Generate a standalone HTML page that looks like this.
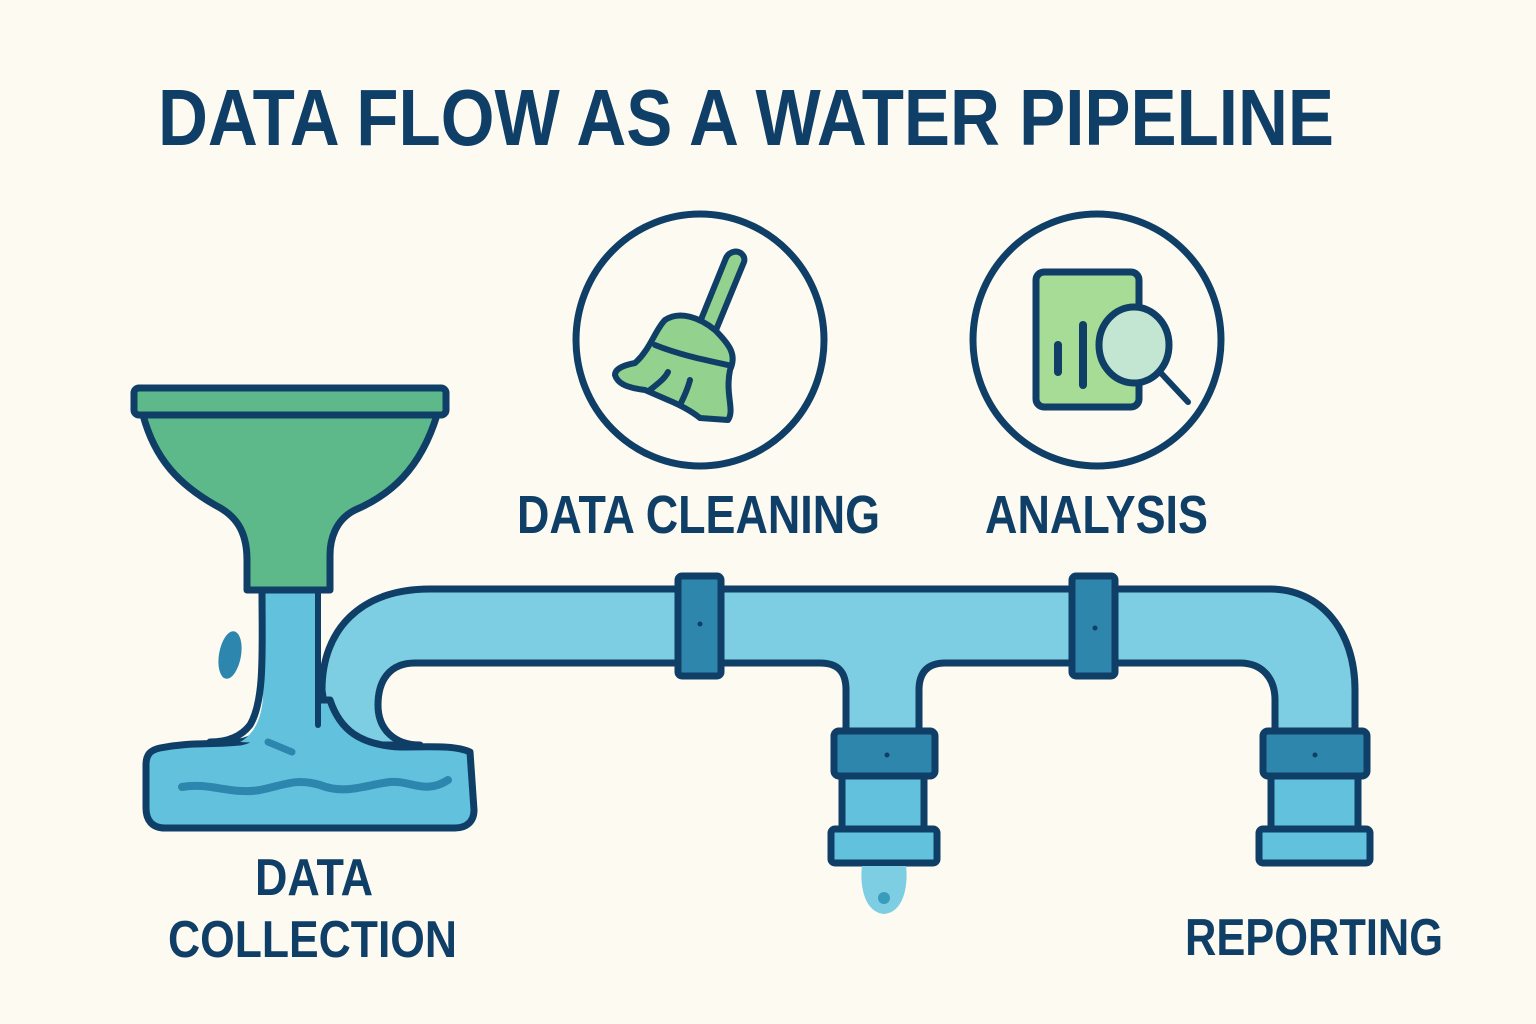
<!DOCTYPE html>
<html><head><meta charset="utf-8"><style>
html,body{margin:0;padding:0;background:#fcfaf1;}
svg{display:block;}
text{font-family:"Liberation Sans",sans-serif;font-weight:bold;fill:#0f3e66;}
</style></head><body>
<svg width="1536" height="1024" viewBox="0 0 1536 1024" xmlns="http://www.w3.org/2000/svg">
<rect width="1536" height="1024" fill="#fcfaf1"/>
<text x="158" y="145" font-size="80" textLength="1176" lengthAdjust="spacingAndGlyphs">DATA FLOW AS A WATER PIPELINE</text>

<g stroke="#0f3e66" stroke-width="7" stroke-linejoin="round" stroke-linecap="round">
<!-- pipe -->
<path d="M322,690 C322,630 360,589 430,589 L1270,589 C1320,589 1355,630 1355,690 L1355,740 L1275,740 L1275,700 C1275,678 1262,663 1240,663 L945,663 C928,663 919,672 919,690 L919,740 L846,740 L846,690 C846,672 838,663 820,663 L415,663 C390,663 378,680 378,705 C378,730 395,745 420,745 L330,745 Z" fill="#7dcde3"/>
<!-- basin -->
<path d="M160,748 C190,742 210,745 240,742 C262,738 270,720 280,700 L330,700 C340,730 360,745 400,747 C430,747 455,745 470,752 L474,810 C474,822 466,828 455,828 L165,828 C152,828 146,820 146,808 L146,765 C146,755 150,750 160,748 Z" fill="#62c1dc"/>
<!-- stream -->
<path d="M262,590 L318,590 L318,725 L300,745 L240,742 C262,730 265,700 262,680 Z" fill="#62c1dc" stroke="none"/>
<path d="M262,590 C262,650 265,700 250,725 C240,738 225,742 210,742" fill="none"/>
<path d="M318,590 L318,725" fill="none" stroke-width="6"/>
<path d="M182,787 C210,782 230,795 260,790 C285,785 295,778 320,785 C345,795 365,785 390,782 C410,780 425,795 448,780" fill="none" stroke="#2d86ae" stroke-width="8"/>
<path d="M268,742 L292,752" stroke="#2d86ae" stroke-width="7"/>
<ellipse cx="230" cy="655" rx="11" ry="24" fill="#2d86ae" stroke="none" transform="rotate(10 230 655)"/>
<!-- funnel -->
<path d="M143,415 L437,415 C420,470 390,495 355,510 C335,520 330,540 330,555 L330,590 L247,590 L247,560 C247,530 235,515 215,505 C180,485 155,460 143,415 Z" fill="#5db98a"/>
<rect x="134" y="388" width="312" height="27" rx="5" fill="#5db98a"/>
<!-- couplings top -->
<rect x="678" y="576" width="43" height="100" rx="4" fill="#2f86ad"/>
<rect x="1072" y="576" width="43" height="100" rx="4" fill="#2f86ad"/>
<!-- branch 1 -->
<rect x="842" y="774" width="82" height="56" fill="#62c1dc"/>
<rect x="834" y="731" width="101" height="45" rx="5" fill="#2f86ad"/>
<rect x="831" y="829" width="106" height="34" rx="4" fill="#62c1dc"/>
<!-- branch 2 -->
<rect x="1271" y="774" width="87" height="56" fill="#62c1dc"/>
<rect x="1263" y="731" width="104" height="45" rx="5" fill="#2f86ad"/>
<rect x="1259" y="829" width="111" height="34" rx="4" fill="#62c1dc"/>
<!-- circles -->
<ellipse cx="700" cy="340" rx="124" ry="126" fill="none"/>
<ellipse cx="1097" cy="340" rx="124" ry="126" fill="none"/>
<!-- broom -->
<path d="M733,252 C740,250 746,256 744,262 L716,330 L700,322 L726,258 C728,254 730,253 733,252 Z" fill="#93d18f" stroke-width="6"/>
<path d="M665,320 C680,310 700,318 715,330 C730,345 737,355 730,370 C725,395 735,410 728,420 L700,418 C690,410 680,405 668,400 L645,390 C630,388 618,385 615,375 C615,368 625,365 635,363 C650,350 655,330 665,320 Z" fill="#93d18f" stroke-width="6"/>
<path d="M655,345 C680,355 705,360 728,365" fill="none" stroke-width="6"/>
<path d="M650,390 C660,382 665,378 668,372 M680,405 C685,395 688,388 690,380" fill="none" stroke-width="6"/>
<!-- analysis -->
<rect x="1036" y="272" width="103" height="135" rx="8" fill="#a6dc95"/>
<line x1="1058" y1="345" x2="1058" y2="372" stroke-width="8"/>
<line x1="1083" y1="325" x2="1083" y2="385" stroke-width="8"/>
<line x1="1160" y1="372" x2="1188" y2="402" stroke-width="6"/>
<ellipse cx="1134" cy="345" rx="35" ry="38" fill="#c3e6d3"/>
</g>
<!-- dots -->
<g fill="#0f3e66">
<circle cx="700" cy="624" r="2.5"/><circle cx="1095" cy="628" r="2.5"/>
<circle cx="887" cy="755" r="2.5"/><circle cx="1315" cy="755" r="2.5"/>
</g>
<path d="M862,866 L906,866 C908,880 906,912 884,914 C862,912 860,880 862,866 Z" fill="#7dcde3"/>
<circle cx="884" cy="898" r="6" fill="#3a9cbd"/>

<text x="517" y="533" font-size="54" textLength="363" lengthAdjust="spacingAndGlyphs">DATA CLEANING</text>
<text x="985" y="533" font-size="54" textLength="223" lengthAdjust="spacingAndGlyphs">ANALYSIS</text>
<text x="255" y="895" font-size="52" textLength="118" lengthAdjust="spacingAndGlyphs">DATA</text>
<text x="168" y="957" font-size="52" textLength="289" lengthAdjust="spacingAndGlyphs">COLLECTION</text>
<text x="1185" y="955" font-size="52" textLength="258" lengthAdjust="spacingAndGlyphs">REPORTING</text>
</svg>
</body></html>
